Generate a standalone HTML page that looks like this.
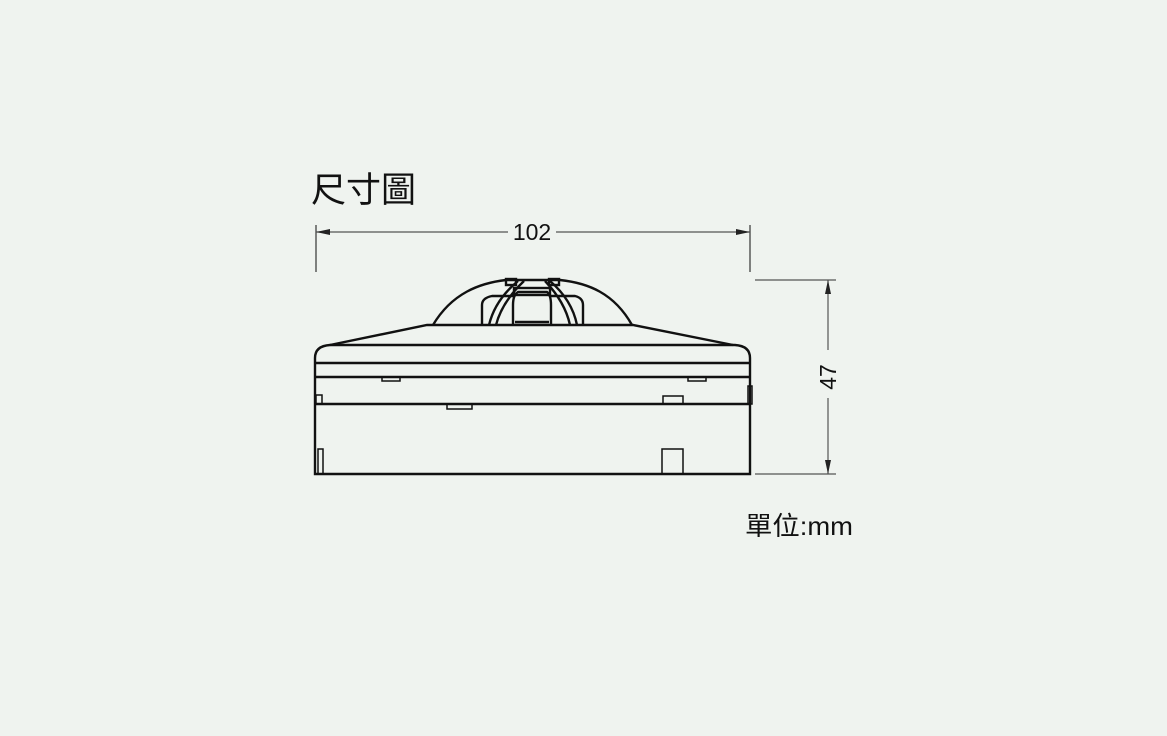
<!DOCTYPE html>
<html><head><meta charset="utf-8"><style>
body{margin:0;width:1167px;height:731px;background:#eff3ef;overflow:hidden}
</style></head><body>
<svg width="1167" height="731" xmlns="http://www.w3.org/2000/svg">
<rect width="1167" height="731" fill="#eff3ef"/>
<text x="311" y="202" font-family="Liberation Sans, Noto Sans CJK TC, sans-serif" font-size="35" fill="#111">尺寸圖</text>
<g stroke="#555" stroke-width="1.2" fill="none">
<line x1="316" y1="225" x2="316" y2="272" stroke="#333"/>
<line x1="750" y1="225" x2="750" y2="272" stroke="#333"/>
<line x1="316" y1="232" x2="508" y2="232"/>
<line x1="556" y1="232" x2="750" y2="232"/>
<line x1="755" y1="280" x2="836" y2="280"/>
<line x1="755" y1="474" x2="836" y2="474"/>
<line x1="828" y1="280" x2="828" y2="350"/>
<line x1="828" y1="398" x2="828" y2="474"/>
</g>
<g fill="#222">
<polygon points="316,232 330,229 330,235"/>
<polygon points="750,232 736,229 736,235"/>
<polygon points="828,280 825,294 831,294"/>
<polygon points="828,474 825,460 831,460"/>
</g>
<text x="532" y="240" text-anchor="middle" font-family="Liberation Sans, sans-serif" font-size="23" fill="#111">102</text>
<text transform="translate(836,377) rotate(-90)" text-anchor="middle" font-family="Liberation Sans, sans-serif" font-size="23" fill="#111">47</text>
<g stroke="#111" stroke-width="2.4" fill="none">
<path d="M315,474 V358 Q315,346 330,345 H735 Q750,346 750,358 V474 Z"/>
<path d="M330,345 L427,325 H633 L733,345"/>
<line x1="315" y1="363" x2="750" y2="363"/>
<line x1="315" y1="377" x2="750" y2="377"/>
<line x1="315" y1="404" x2="750" y2="404"/>
<path d="M433,325 C452,293 480,283 506,280 H560 C588,283 614,293 632,325"/>
<path d="M482,325 V305 Q482,298 492,296 H515 M550,296 H575 Q583,298 583,305 V325"/>
<path d="M489,325 Q495,300 518,281 M496,325 Q502,302 524,281"/>
<path d="M570,325 Q565,302 545,281 M577,325 Q572,300 550,281"/>
<path d="M513,325 V305 Q513,295 518,292 H547 Q551,295 551,305 V325"/>
<rect x="514" y="288" width="36" height="7"/>
<line x1="515" y1="322" x2="549" y2="322"/>
<rect x="506" y="279" width="10" height="6"/>
<rect x="549" y="279" width="10" height="6"/>
</g>
<g stroke="#111" stroke-width="1.5" fill="none">
<rect x="382" y="377" width="18" height="4"/>
<rect x="688" y="377" width="18" height="4"/>
<rect x="447" y="404" width="25" height="5"/>
<rect x="663" y="396" width="20" height="8"/>
<rect x="316" y="395" width="6" height="9"/>
<rect x="748" y="386" width="4" height="18"/>
<rect x="318" y="449" width="5" height="25"/>
<rect x="662" y="449" width="21" height="25"/>
</g>
<text x="745" y="535" font-family="Liberation Sans, Noto Sans CJK TC, sans-serif" font-size="26" fill="#111" textLength="108" lengthAdjust="spacingAndGlyphs">單位:mm</text>
</svg>
</body></html>
